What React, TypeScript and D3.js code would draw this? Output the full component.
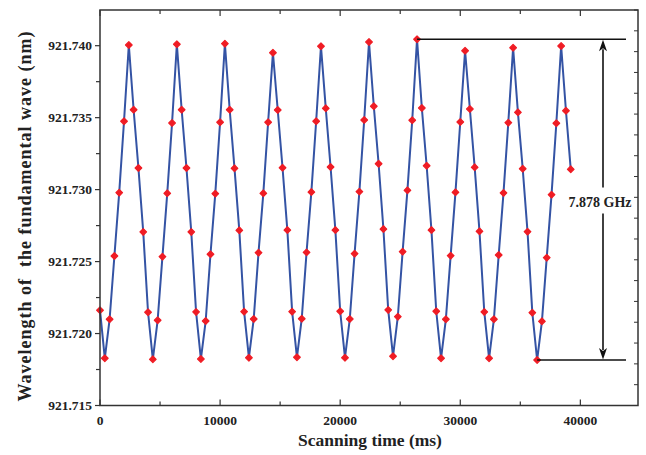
import React from "react";
import * as d3 from "d3";

const timeMs = [
  0, 400, 800, 1200, 1600, 2000, 2400, 2800, 3200, 3600,
  4000, 4400, 4800, 5200, 5600, 6000, 6400, 6800, 7200, 7600,
  8000, 8400, 8800, 9200, 9600, 10000, 10400, 10800, 11200, 11600,
  12000, 12400, 12800, 13200, 13600, 14000, 14400, 14800, 15200, 15600,
  16000, 16400, 16800, 17200, 17600, 18000, 18400, 18800, 19200, 19600,
  20000, 20400, 20800, 21200, 21600, 22000, 22400, 22800, 23200, 23600,
  24000, 24400, 24800, 25200, 25600, 26000, 26400, 26800, 27200, 27600,
  28000, 28400, 28800, 29200, 29600, 30000, 30400, 30800, 31200, 31600,
  32000, 32400, 32800, 33200, 33600, 34000, 34400, 34800, 35200, 35600,
  36000, 36400, 36800, 37200, 37600, 38000, 38400, 38800, 39200,
];

const wavelengthNm = [
  921.72162, 921.71828, 921.72099, 921.72539, 921.72979, 921.73475, 921.74005, 921.73555, 921.7315, 921.72706,
  921.72148, 921.71821, 921.72092, 921.72534, 921.72974, 921.73463, 921.7401, 921.73555, 921.7315, 921.72706,
  921.7215, 921.71823, 921.72087, 921.72551, 921.72972, 921.73468, 921.74014, 921.73555, 921.73148, 921.72717,
  921.72152, 921.71832, 921.72101, 921.72562, 921.72974, 921.73468, 921.73951, 921.73553, 921.73152, 921.72719,
  921.72152, 921.71835, 921.72103, 921.72564, 921.72983, 921.73475, 921.73996, 921.73565, 921.73157, 921.72719,
  921.72155, 921.71832, 921.72101, 921.72555, 921.72986, 921.73484, 921.74026, 921.73579, 921.7318, 921.72726,
  921.72164, 921.71842, 921.72117, 921.72569, 921.72995, 921.73482, 921.74045, 921.73567, 921.73166, 921.72719,
  921.72155, 921.71828, 921.72099, 921.72541, 921.72981, 921.7347, 921.73965, 921.7356, 921.73155, 921.7271,
  921.7215, 921.71828, 921.72099, 921.72546, 921.72977, 921.73465, 921.73986, 921.73537, 921.73145, 921.72708,
  921.72145, 921.71816, 921.72085, 921.72527, 921.72965, 921.73461, 921.73998, 921.73548, 921.73141,
];

const xMajorTicks = [0, 10000, 20000, 30000, 40000];
const xMinorTicks = [5000, 15000, 25000, 35000];
const yMajorTicks = [921.715, 921.72, 921.725, 921.73, 921.735, 921.74];
const yMinorTicks = [921.7175, 921.7225, 921.7275, 921.7325, 921.7375];
const rightTicks = d3.range(0, 20);

const annotationLabel = "7.878 GHz";
const xTitle = "Scanning time (ms)";
const yTitle = "Wavelength of  the fundamental wave (nm)";

const W = 646;
const H = 455;
const L = 100;
const R = 638;
const T = 10;
const B = 405.5;
const FONT = "'Liberation Serif', 'Times New Roman', serif";

export default function App() {
  const x = d3.scaleLinear().domain([0, 44800]).range([L, R]);
  const y = d3.scaleLinear().domain([921.715, 921.74248]).range([B, T]);
  const yr = d3.scaleLinear().domain([0, 19]).range([B, T]);

  const pts = timeMs.map((t, i) => [t, wavelengthNm[i]] as [number, number]);
  const line = d3
    .line<[number, number]>()
    .x((d) => x(d[0]))
    .y((d) => y(d[1]));
  const marker = d3.symbol().type(d3.symbolSquare).size(22)() as string;

  const maxI = d3.maxIndex(wavelengthNm);
  const minI = d3.minIndex(wavelengthNm);
  const yTop = y(wavelengthNm[maxI]);
  const yBot = y(wavelengthNm[minI]);
  const lineEnd = 626;
  const arrowX = 603;
  const labelY = (yTop + yBot) / 2 + 2;

  const axisColor = "#333";

  return (
    <svg width={W} height={H} style={{ display: "block", position: "absolute", left: 0, top: 0 }}>
      <rect x={0} y={0} width={W} height={H} fill="#fff" />
      {/* data */}
      <path d={line(pts) || ""} fill="none" stroke="#3453a4" strokeWidth={2} strokeLinejoin="round" />
      {pts.map((d, i) => (
        <path
          key={i}
          d={marker}
          transform={`translate(${x(d[0])},${y(d[1])}) rotate(45)`}
          fill="#f01c24"
          stroke="#f01c24"
          strokeWidth={1.2}
          strokeLinejoin="round"
        />
      ))}

      {/* frame */}
      <rect x={L} y={T} width={R - L} height={B - T} fill="none" stroke={axisColor} strokeWidth={1.5} />

      {/* left ticks (outward) */}
      {yMajorTicks.map((v) => (
        <line key={"ym" + v} x1={L - 5} x2={L} y1={y(v)} y2={y(v)} stroke={axisColor} strokeWidth={1.2} />
      ))}
      {yMinorTicks.map((v) => (
        <line key={"yn" + v} x1={L - 4} x2={L} y1={y(v)} y2={y(v)} stroke={axisColor} strokeWidth={1.2} />
      ))}
      {yMajorTicks.map((v) => (
        <text
          key={"yl" + v}
          x={92}
          y={y(v)}
          dy="0.35em"
          textAnchor="end"
          fontFamily={FONT}
          fontWeight="bold"
          fontSize={13.5}
          fill="#222"
        >
          {v.toFixed(3)}
        </text>
      ))}

      {/* right ticks (inward) */}
      {rightTicks.map((v) => (
        <line key={"r" + v} x1={R - 4} x2={R} y1={yr(v)} y2={yr(v)} stroke={axisColor} strokeWidth={1} />
      ))}

      {/* bottom & top ticks (inward) */}
      {xMajorTicks.map((v) => (
        <g key={"xm" + v}>
          <line x1={x(v)} x2={x(v)} y1={B} y2={B - 6} stroke={axisColor} strokeWidth={1.2} />
          <line x1={x(v)} x2={x(v)} y1={T} y2={T + 6} stroke={axisColor} strokeWidth={1.2} />
        </g>
      ))}
      {xMinorTicks.map((v) => (
        <g key={"xn" + v}>
          <line x1={x(v)} x2={x(v)} y1={B} y2={B - 4} stroke={axisColor} strokeWidth={1.2} />
          <line x1={x(v)} x2={x(v)} y1={T} y2={T + 4} stroke={axisColor} strokeWidth={1.2} />
        </g>
      ))}
      {xMajorTicks.map((v) => (
        <text
          key={"xl" + v}
          x={x(v)}
          y={425}
          textAnchor="middle"
          fontFamily={FONT}
          fontWeight="bold"
          fontSize={13.5}
          fill="#222"
        >
          {v}
        </text>
      ))}

      {/* titles */}
      <text x={370} y={446} textAnchor="middle" fontFamily={FONT} fontWeight="bold" fontSize={17.5} fill="#222">
        {xTitle}
      </text>
      <text
        transform={`translate(31,${216}) rotate(-90)`}
        textAnchor="middle"
        fontFamily={FONT}
        fontWeight="bold"
        fontSize={18}
        letterSpacing={1}
        fill="#222"
        style={{ whiteSpace: "pre" }}
      >
        {yTitle}
      </text>

      {/* annotation */}
      <line x1={x(timeMs[maxI])} x2={lineEnd} y1={yTop} y2={yTop} stroke="#111" strokeWidth={1.6} />
      <line x1={x(timeMs[minI])} x2={lineEnd} y1={yBot} y2={yBot} stroke="#111" strokeWidth={1.6} />
      <line x1={arrowX} x2={arrowX} y1={yTop + 10} y2={labelY - 14} stroke="#111" strokeWidth={1.6} />
      <line x1={arrowX} x2={arrowX} y1={labelY + 12} y2={yBot - 10} stroke="#111" strokeWidth={1.6} />
      <path d={`M${arrowX},${yTop + 0.5} L${arrowX - 4},${yTop + 12} L${arrowX},${yTop + 9} L${arrowX + 4},${yTop + 12} Z`} fill="#111" />
      <path d={`M${arrowX},${yBot - 0.5} L${arrowX - 4},${yBot - 12} L${arrowX},${yBot - 9} L${arrowX + 4},${yBot - 12} Z`} fill="#111" />
      <text x={600} y={labelY} dy="0.35em" textAnchor="middle" fontFamily={FONT} fontWeight="bold" fontSize={14} fill="#222">
        {annotationLabel}
      </text>
    </svg>
  );
}
